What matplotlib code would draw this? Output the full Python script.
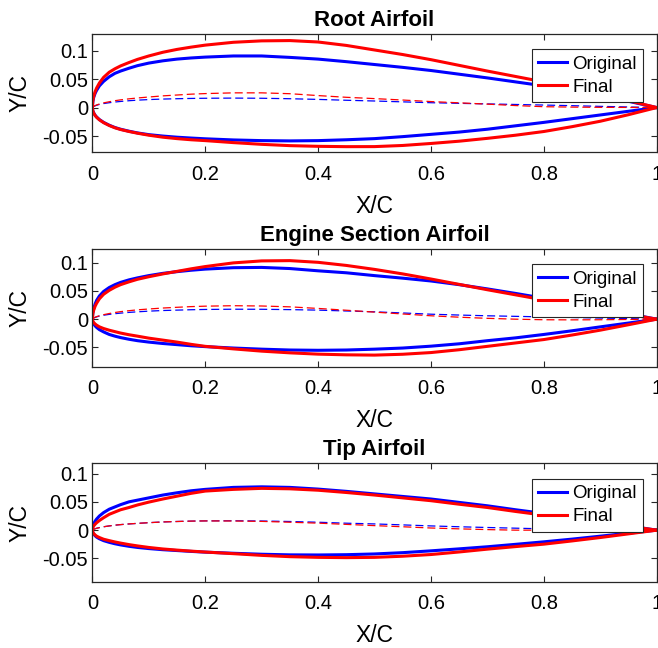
import numpy as np
import matplotlib
matplotlib.use("Agg")
from matplotlib import pyplot as plt

plt.rcParams['font.family'] = ['Liberation Sans', 'DejaVu Sans']

# chordwise stations shared by every section
x_c = [0, 0.001, 0.0025, 0.005, 0.0075, 0.0125, 0.02, 0.03, 0.04, 0.05,
       0.065, 0.08, 0.1, 0.125, 0.15, 0.175, 0.2, 0.25, 0.3, 0.35,
       0.4, 0.45, 0.5, 0.55, 0.6, 0.65, 0.7, 0.75, 0.8, 0.85,
       0.9, 0.95, 1.0]

# root section
root_orig_upper = [0, .011, .018, .025, .030, .038, .046, .054, .060, .064,
                   .069, .0735, .078, .082, .085, .087, .0885, .0905, .0905, .088,
                   .085, .0805, .0755, .0705, .065, .0585, .052, .045, .038, .030,
                   .021, .011, 0]
root_orig_lower = [0, -.006, -.0095, -.0135, -.0165, -.021, -.026, -.031, -.035, -.038,
                   -.0415, -.0445, -.0475, -.050, -.052, -.0535, -.0548, -.0568, -.058, -.0585,
                   -.058, -.0565, -.0545, -.051, -.047, -.043, -.038, -.032, -.026, -.0195,
                   -.013, -.0065, 0]
root_orig_camber = [0, .001, .002, .003, .004, .0055, .007, .0085, .0097, .0107,
                    .012, .013, .014, .0149, .0155, .016, .0163, .0166, .0163, .0155,
                    .0143, .0128, .0115, .010, .0085, .0074, .0064, .0054, .0044, .0033,
                    .0021, .001, 0]
root_final_upper = [0, .0125, .020, .028, .034, .043, .053, .062, .068, .073,
                    .079, .0845, .0905, .097, .102, .106, .1095, .1145, .117, .1175,
                    .115, .109, .101, .093, .084, .074, .064, .0545, .045, .035,
                    .024, .012, 0]
root_final_lower = [0, -.0062, -.0098, -.014, -.017, -.0215, -.0265, -.0315, -.0355, -.0385,
                    -.042, -.045, -.0485, -.052, -.0545, -.0565, -.058, -.0615, -.0645, -.0668,
                    -.068, -.0686, -.0685, -.0665, -.063, -.059, -.054, -.0485, -.042, -.0335,
                    -.024, -.0125, 0]
root_final_camber = [0, .001, .002, .0035, .0045, .0062, .0082, .0102, .012, .0135,
                     .0153, .0168, .0185, .0205, .022, .0235, .0245, .0258, .0258, .0243,
                     .021, .018, .0157, .0132, .0105, .0083, .006, .0035, .0015, .0008,
                     .0004, .0002, 0]

# engine section
eng_orig_upper = [0, .012, .019, .027, .033, .041, .049, .056, .061, .065,
                  .0695, .073, .077, .081, .084, .0865, .0885, .091, .0915, .0895,
                  .0855, .082, .077, .0725, .0675, .061, .0535, .0455, .037, .028,
                  .019, .0095, 0]
eng_orig_lower = [0, -.0055, -.0085, -.012, -.0145, -.0185, -.0225, -.027, -.030, -.0325,
                  -.0355, -.038, -.0405, -.043, -.045, -.047, -.0485, -.051, -.053, -.0545,
                  -.055, -.0545, -.053, -.051, -.0477, -.0435, -.038, -.033, -.027, -.0205,
                  -.0136, -.0068, 0]
eng_orig_camber = [0, .001, .002, .003, .004, .0055, .007, .0085, .0097, .0107,
                   .012, .013, .0142, .0153, .016, .0167, .0172, .0176, .0175, .0169,
                   .016, .0145, .013, .011, .0088, .0073, .006, .005, .004, .003,
                   .002, .001, 0]
eng_final_upper = [0, .010, .016, .023, .028, .036, .044, .051, .0565, .061,
                   .066, .0705, .075, .080, .0845, .089, .093, .0995, .103, .1035,
                   .1005, .095, .088, .080, .071, .0615, .052, .043, .034, .0255,
                   .017, .0085, 0]
eng_final_lower = [0, -.004, -.006, -.0085, -.0105, -.0135, -.0165, -.0195, -.022, -.0245,
                   -.0275, -.030, -.0335, -.037, -.0405, -.0445, -.048, -.0525, -.0565, -.0595,
                   -.0618, -.063, -.0635, -.062, -.059, -.054, -.048, -.042, -.036, -.028,
                   -.0194, -.0098, 0]
eng_final_camber = [0, .001, .002, .0035, .0045, .006, .008, .010, .0118, .0133,
                    .015, .0165, .018, .0197, .021, .0222, .023, .0238, .0233, .0218,
                    .019, .0158, .0125, .0092, .006, .0035, .0015, 0, -.001, -.0012,
                    -.001, -.0005, 0]

# tip section
tip_orig_upper = [0, .0075, .0115, .016, .0195, .025, .031, .037, .041, .045,
                  .050, .053, .057, .062, .066, .0695, .072, .0755, .0765, .0755,
                  .0725, .0685, .064, .0595, .055, .049, .043, .036, .0295, .0225,
                  .015, .0075, 0]
tip_orig_lower = [0, -.0045, -.007, -.010, -.0122, -.0152, -.0185, -.0215, -.024, -.026,
                  -.0285, -.0305, -.0325, -.0345, -.036, -.0375, -.0388, -.0408, -.0425, -.0436,
                  -.0438, -.0433, -.042, -.0397, -.0365, -.033, -.0293, -.025, -.0206, -.0158,
                  -.0106, -.0053, 0]
tip_orig_camber = [0, .0007, .0015, .0025, .0033, .0045, .006, .0075, .0088, .0098,
                   .011, .012, .0132, .0145, .0153, .016, .0164, .0166, .0162, .0153,
                   .014, .0123, .011, .0093, .0075, .006, .0047, .0035, .0023, .0015,
                   .0008, .0004, 0]
tip_final_upper = [0, .005, .0075, .0105, .013, .017, .022, .028, .032, .036,
                   .040, .0445, .0495, .055, .060, .065, .069, .072, .0738, .073,
                   .0705, .0665, .062, .057, .052, .0458, .040, .033, .0265, .0203,
                   .014, .007, 0]
tip_final_lower = [0, -.0038, -.006, -.0085, -.0105, -.013, -.016, -.0185, -.0208, -.0228,
                   -.0255, -.0278, -.0305, -.0332, -.0352, -.037, -.0386, -.0415, -.0445, -.0468,
                   -.048, -.0485, -.048, -.046, -.043, -.0385, -.0335, -.029, -.0247, -.019,
                   -.013, -.0065, 0]
tip_final_camber = [0, .0007, .0015, .0025, .0033, .0045, .006, .0075, .0088, .0098,
                    .011, .012, .0132, .0145, .0153, .016, .0163, .0162, .0155, .014,
                    .0124, .0102, .008, .006, .0038, .0023, .001, 0, 0, -.0005,
                    -.0005, -.0003, 0]

sections = [
    ("Root Airfoil", (root_orig_upper, root_orig_lower, root_orig_camber),
     (root_final_upper, root_final_lower, root_final_camber), (-0.078, 0.129)),
    ("Engine Section Airfoil", (eng_orig_upper, eng_orig_lower, eng_orig_camber),
     (eng_final_upper, eng_final_lower, eng_final_camber), (-0.084, 0.124)),
    ("Tip Airfoil", (tip_orig_upper, tip_orig_lower, tip_orig_camber),
     (tip_final_upper, tip_final_lower, tip_final_camber), (-0.091, 0.118)),
]

# axes boxes in figure fractions (left, bottom, width, height)
boxes = [
    [0.1403, 0.7654, 0.8578, 0.1821],
    [0.1403, 0.4341, 0.8578, 0.1816],
    [0.1403, 0.1023, 0.8578, 0.1827],
]

edge = '#262626'


def outline(upper, lower):
    # trailing edge -> leading edge along the upper side, then back along the lower side
    xs = np.array(x_c)
    px = np.concatenate([xs[::-1], xs[1:]])
    py = np.concatenate([np.array(upper)[::-1], np.array(lower)[1:]])
    return px, py


fig = plt.figure(figsize=(6.58, 6.48), dpi=100)

for (title, orig, final, ylim), box in zip(sections, boxes):
    ax = fig.add_axes(box)
    handles = []
    for (upper, lower, camber), color, name in [(orig, 'b', 'Original'), (final, 'r', 'Final')]:
        px, py = outline(upper, lower)
        h, = ax.plot(px, py, color=color, linewidth=2.2, label=name, solid_joinstyle='round')
        ax.plot(x_c, camber, color=color, linewidth=0.9, linestyle=(0, (6.4, 3.2)))
        handles.append(h)

    ax.set_xlim(0, 1)
    ax.set_ylim(*ylim)
    ax.set_xticks([0, 0.2, 0.4, 0.6, 0.8, 1])
    ax.set_xticklabels(['0', '0.2', '0.4', '0.6', '0.8', '1'])
    ax.set_yticks([-0.05, 0, 0.05, 0.1])
    ax.set_yticklabels(['-0.05', '0', '0.05', '0.1'])
    ax.tick_params(direction='in', top=True, right=True, length=4, width=0.8,
                   color=edge, labelsize=14.5, labelcolor='black')
    ax.tick_params(axis='x', pad=9)
    ax.tick_params(axis='y', pad=3)
    for s in ax.spines.values():
        s.set_color(edge)
        s.set_linewidth(0.9)

    ax.set_xlabel('X/C', fontsize=16.5, labelpad=8)
    ax.set_ylabel('Y/C', fontsize=16.5, labelpad=8)
    ax.set_title(title, fontsize=16, fontweight='bold', pad=6)

    leg = ax.legend(handles=handles, loc='upper right', bbox_to_anchor=(0.976, 0.870),
                    borderaxespad=0, fontsize=13.5, handlelength=1.55, handletextpad=0.25,
                    borderpad=0.35, labelspacing=0.3, fancybox=False, framealpha=1)
    leg.get_frame().set_edgecolor(edge)
    leg.get_frame().set_linewidth(0.8)

fig.savefig('out.png', dpi=100)
